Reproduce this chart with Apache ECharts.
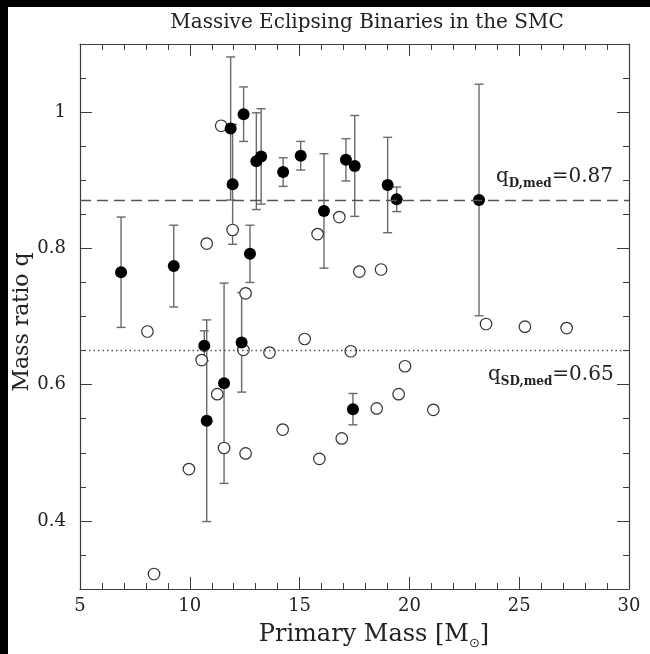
<!DOCTYPE html>
<html><head><meta charset="utf-8">
<script src="https://cdn.jsdelivr.net/npm/echarts@6/dist/echarts.min.js"></script>
<style>html,body{margin:0;padding:0;background:#fff}#c{width:650px;height:654px}</style>
</head><body><div id="c"></div>
<script>
// Detached systems (filled circles with error bars)
const detachedMass = [6.87, 9.27, 11.86, 11.95, 12.45, 13.03, 13.25, 14.25, 15.05, 12.74, 16.11, 17.11, 17.51, 19.01, 19.42, 23.17, 10.66, 10.77, 11.56, 12.36, 17.43];
const detachedQ    = [0.765, 0.774, 0.976, 0.894, 0.997, 0.928, 0.935, 0.912, 0.936, 0.792, 0.855, 0.930, 0.921, 0.893, 0.872, 0.871, 0.657, 0.547, 0.602, 0.662, 0.564];
const detachedErr  = [0.081, 0.060, 0.105, 0.088, 0.040, 0.071, 0.070, 0.021, 0.021, 0.042, 0.084, 0.031, 0.074, 0.070, 0.018, 0.170, 0.022, 0.148, 0.147, 0.073, 0.023];
// Semi-detached systems (open circles)
const semiMass = [11.43, 11.95, 10.77, 12.54, 15.82, 16.81, 17.72, 18.71, 23.49, 25.26, 27.16, 8.07, 10.54, 12.44, 13.63, 15.23, 17.33, 19.80, 19.51, 18.51, 21.09, 11.25, 14.23, 16.92, 15.90, 11.56, 12.54, 9.96, 8.37];
const semiQ    = [0.980, 0.827, 0.807, 0.734, 0.821, 0.846, 0.766, 0.769, 0.689, 0.685, 0.683, 0.678, 0.636, 0.651, 0.647, 0.667, 0.649, 0.627, 0.586, 0.565, 0.563, 0.586, 0.534, 0.521, 0.491, 0.507, 0.499, 0.476, 0.322];
// Medians
const qDmed = 0.87;
const qSDmed = 0.65;
// Axis ticks
const xMin = 5, xMax = 30, xStep = 5;
const yMin = 0.3, yMax = 1.1, yMinorStep = 0.05;
const yLabelValues = [0.4, 0.6, 0.8, 1.0];

const FONT = 'DejaVu Serif';
const AX = '#3c3c3c';
const chart = echarts.init(document.getElementById('c'));

function xAx(pos, showLabel) {
  return {
    type: 'value', position: pos, min: xMin, max: xMax, interval: xStep,
    axisLine: {show: true, onZero: false, lineStyle: {color: AX, width: 1.2}},
    axisTick: {show: true, inside: true, length: 12, lineStyle: {color: AX, width: 1}},
    minorTick: {show: true, splitNumber: 5, length: 6, lineStyle: {color: AX, width: 1}},
    axisLabel: {show: showLabel, fontFamily: FONT, fontSize: 18, color: '#222', margin: 8},
    splitLine: {show: false}, minorSplitLine: {show: false}
  };
}
function yMinorAx(pos, showLabel) {
  return {
    type: 'value', position: pos, min: yMin, max: yMax, interval: yMinorStep,
    axisLine: {show: true, onZero: false, lineStyle: {color: AX, width: 1.2}},
    axisTick: {show: true, inside: true, length: 6, lineStyle: {color: AX, width: 1}},
    axisLabel: {show: showLabel, customValues: yLabelValues, fontFamily: FONT, fontSize: 18, color: '#222', margin: 14,
      formatter: v => String(+(+v).toFixed(2))},
    splitLine: {show: false}
  };
}
function yMajorAx(pos) {
  return {
    type: 'value', position: pos, min: yMin, max: yMax, interval: yMinorStep,
    axisLine: {show: false},
    axisTick: {show: true, inside: true, length: 12, customValues: yLabelValues, lineStyle: {color: AX, width: 1}},
    axisLabel: {show: false},
    splitLine: {show: false}
  };
}

const errData = detachedMass.map((m, i) => [m, detachedQ[i] - detachedErr[i], detachedQ[i] + detachedErr[i]]);
const filled = detachedMass.map((m, i) => [m, detachedQ[i]]);
const open = semiMass.map((m, i) => [m, semiQ[i]]);

function medLabel(sub, val) {
  return {
    text: '{q|q}{s|' + sub + '}{e|=' + val + '}', textAlign: 'left', textVerticalAlign: 'middle',
    rich: {q: {fontFamily: FONT, fontSize: 20, fill: '#222', lineHeight: 26, verticalAlign: 'middle'},
           s: {fontFamily: FONT, fontSize: 12, fontWeight: 'bold', fill: '#222', lineHeight: 12, verticalAlign: 'bottom'},
           e: {fontFamily: FONT, fontSize: 20, fill: '#222', lineHeight: 26, verticalAlign: 'middle'}}
  };
}

const option = {
  animation: false,
  backgroundColor: '#fff',
  grid: {left: 80, right: 21, top: 44, bottom: 65, containLabel: false},
  xAxis: [xAx('bottom', true), xAx('top', false)],
  yAxis: [yMinorAx('left', true), yMajorAx('left'), yMinorAx('right', false), yMajorAx('right')],
  series: [
    {
      type: 'custom', xAxisIndex: 0, yAxisIndex: 0, z: 2, silent: true,
      renderItem: function (params, api) {
        const x = api.value(0);
        const lo = api.coord([x, api.value(1)]);
        const hi = api.coord([x, api.value(2)]);
        const w = 4.5;
        const st = {stroke: '#6a6a6a', lineWidth: 1.4};
        return {type: 'group', children: [
          {type: 'line', shape: {x1: lo[0], y1: lo[1], x2: hi[0], y2: hi[1]}, style: st},
          {type: 'line', shape: {x1: lo[0] - w, y1: lo[1], x2: lo[0] + w, y2: lo[1]}, style: st},
          {type: 'line', shape: {x1: hi[0] - w, y1: hi[1], x2: hi[0] + w, y2: hi[1]}, style: st}
        ]};
      },
      encode: {x: 0, y: [1, 2]},
      data: errData
    },
    {
      type: 'scatter', xAxisIndex: 0, yAxisIndex: 0, z: 3, symbol: 'circle', symbolSize: 11.5,
      itemStyle: {color: '#fff', borderColor: '#333', borderWidth: 1.2, opacity: 1},
      data: open
    },
    {
      type: 'scatter', xAxisIndex: 0, yAxisIndex: 0, z: 4, symbol: 'circle', symbolSize: 12,
      itemStyle: {color: '#000', opacity: 1},
      data: filled,
      markLine: {
        silent: true, symbol: 'none', label: {show: false},
        data: [
          {yAxis: qDmed, lineStyle: {type: [11, 6], color: '#555', width: 1.3, opacity: 1}},
          {yAxis: qSDmed, lineStyle: {type: [1.5, 3], color: '#555', width: 1.3, opacity: 1}}
        ]
      }
    }
  ],
  graphic: [
    {type: 'rect', shape: {x: 0, y: 0, width: 8, height: 654}, style: {fill: '#000'}, z: 100},
    {type: 'rect', shape: {x: 0, y: 0, width: 650, height: 7}, style: {fill: '#000'}, z: 100},
    {type: 'text', x: 367, y: 23, style: {text: 'Massive Eclipsing Binaries in the SMC', font: '20px "DejaVu Serif"', fill: '#222', textAlign: 'center', textVerticalAlign: 'middle'}},
    {type: 'text', x: 374, y: 635, style: {
      text: '{a|Primary Mass [M}{s|⊙}{a|]}', textAlign: 'center', textVerticalAlign: 'middle',
      rich: {a: {fontFamily: FONT, fontSize: 24, fill: '#222', lineHeight: 30, verticalAlign: 'middle'},
             s: {fontFamily: 'DejaVu Sans', fontSize: 13, fill: '#222', lineHeight: 15, verticalAlign: 'bottom'}}
    }},
    {type: 'text', x: 22, y: 322, rotation: Math.PI / 2, style: {text: 'Mass ratio q', font: '22px "DejaVu Serif"', fill: '#222', textAlign: 'center', textVerticalAlign: 'middle'}},
    {type: 'text', x: 496, y: 177, style: medLabel('D,med', '0.87')},
    {type: 'text', x: 488, y: 375, style: medLabel('SD,med', '0.65')}
  ]
};
chart.setOption(option);
</script></body></html>
